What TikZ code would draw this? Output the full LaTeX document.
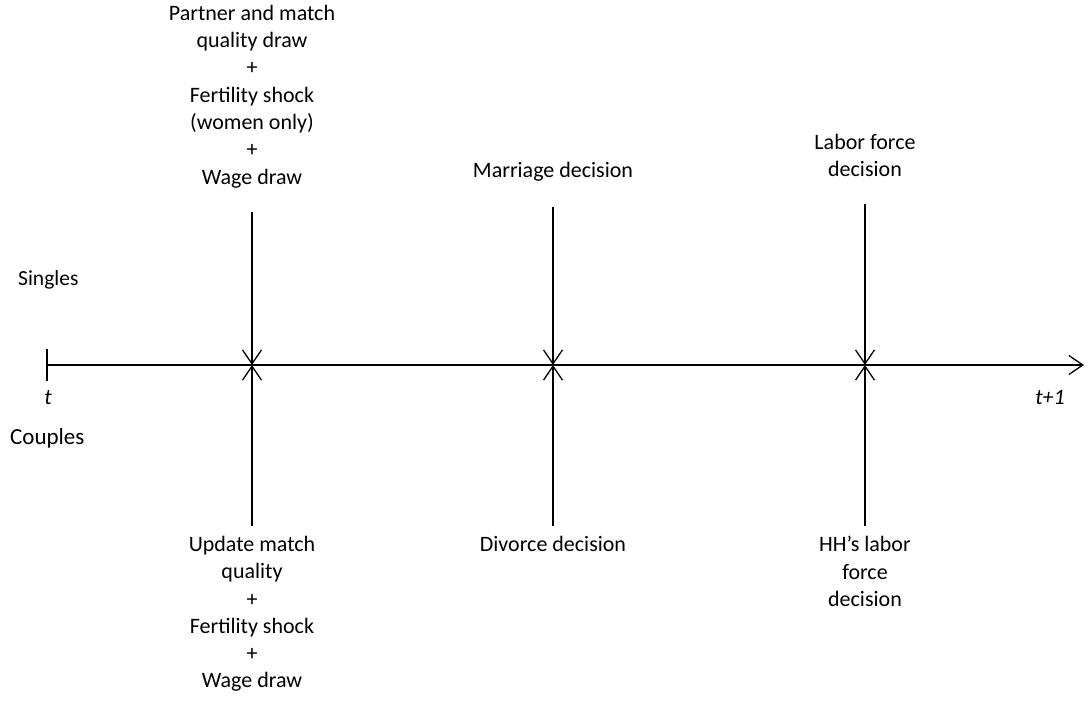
\documentclass[tikz,border=0pt]{standalone}
\usepackage{fontspec}
\setmainfont{Carlito}
\usepackage{tikz}
\usetikzlibrary{arrows.meta, positioning}

\begin{document}
\begin{tikzpicture}[
x=1pt, y=-1pt,
>={Straight Barb[length=14pt,width=19pt,line width=1.3pt]},
eventtext/.style={align=center, inner sep=0pt, font=\fontsize{22}{27.3}\selectfont},
sidetext/.style={anchor=west, inner sep=0pt, font=\fontsize{21.5}{26}\selectfont},
timetext/.style={inner sep=0pt, font=\fontsize{22}{26}\selectfont\itshape},
eventline/.style={line width=1.3pt},
axisline/.style={line width=2pt},
]
\useasboundingbox (0,0) rectangle (1088,702);

%Axis points
\coordinate (t_start) at (47,365);
\coordinate (draw_point) at (252,365);
\coordinate (marriage_point) at (553,365);
\coordinate (labor_point) at (865,365);
\coordinate (axis_thin) at (965,365);
\coordinate (t_end) at (1084,365);

%Line ends
\coordinate (draw_top) at (252,212);
\coordinate (marriage_top) at (553,207);
\coordinate (labor_top) at (865,204);
\coordinate (draw_bottom) at (252,526);
\coordinate (divorce_bottom) at (553,526);
\coordinate (hh_bottom) at (865,526);

%Nodes
\node[eventtext, above=24pt of draw_top] (partner_draw) {Partner and match\\quality draw\\+\\Fertility shock\\(women only)\\+\\Wage draw};
\node[eventtext, above=26pt of marriage_top] (marriage) {Marriage decision};
\node[eventtext, above=27pt of labor_top] (labor_force) {Labor force\\decision};
\node[eventtext, below=10pt of draw_bottom] (update_match) {Update match\\quality\\+\\Fertility shock\\+\\Wage draw};
\node[eventtext, below=10pt of divorce_bottom] (divorce) {Divorce decision};
\node[eventtext, below=10pt of hh_bottom] (hh_labor) {HH's labor\\force\\decision};

\node[sidetext] (singles) at (18,280) {Singles};
\node[sidetext, font=\fontsize{23}{27}\selectfont] (couples) at (10,438) {Couples};
\node[timetext] (t_label) at (48,398) {t};
\node[timetext] (t1_label) at (1050,398) {t+1};

%Lines
\draw[axisline] (47,349) -- (47,381);
\draw[axisline] (t_start) -- (axis_thin);
\draw[eventline, ->] (axis_thin) -- (t_end);
\draw[eventline, ->] (draw_top) -- (draw_point);
\draw[eventline, ->] (marriage_top) -- (marriage_point);
\draw[eventline, ->] (labor_top) -- (labor_point);
\draw[eventline, ->] (draw_bottom) -- (draw_point);
\draw[eventline, ->] (divorce_bottom) -- (marriage_point);
\draw[eventline, ->] (hh_bottom) -- (labor_point);

\end{tikzpicture}
\end{document}
